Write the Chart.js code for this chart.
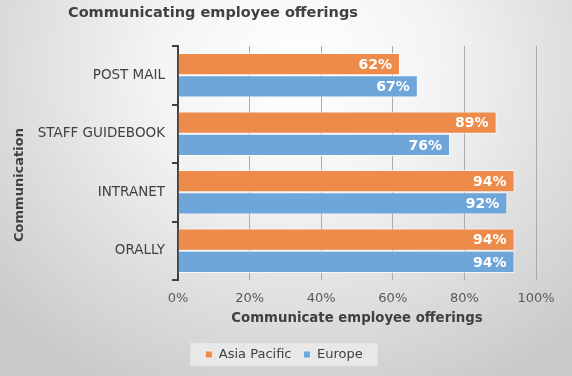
<!DOCTYPE html>
<html>
<head>
<meta charset="utf-8">
<script src="https://cdn.jsdelivr.net/npm/chart.js@4.4.0/dist/chart.umd.min.js"></script>
<style>
  html, body { margin: 0; padding: 0; }
  body { width: 572px; height: 376px; overflow: hidden; }
  #wrap {
    position: relative;
    width: 572px;
    height: 376px;
    background: radial-gradient(ellipse 70% 95% at 52% 18%, #ffffff 0%, #f4f4f4 35%, #dadada 75%, #cacaca 100%);
  }
</style>
</head>
<body>
<div id="wrap"><canvas id="chart" width="572" height="376"></canvas></div>
<script>
// Chart data
const categories = ["POST MAIL", "STAFF GUIDEBOOK", "INTRANET", "ORALLY"];
const asiaPacific = [62, 89, 94, 94];
const europe = [67, 76, 92, 94];
const xTickValues = [0, 20, 40, 60, 80, 100];

const chartTitle = "Communicating employee offerings";
const xTitle = "Communicate employee offerings";
const yTitle = "Communication";

const FONT = "'DejaVu Sans', Verdana, sans-serif";

// Title, rotated y title and legend backdrop
const decorPlugin = {
  id: "decor",
  afterLayout(chart) {
    // legend sits a bit right of the default centre
    if (chart.legend) {
      chart.legend.left += 12;
      chart.legend.right += 12;
    }
  },
  beforeDraw(chart) {
    const ctx = chart.ctx;
    const boxes = chart.legend && chart.legend.legendHitBoxes;
    if (boxes && boxes.length) {
      let left = Infinity, right = -Infinity, top = Infinity, bottom = -Infinity;
      boxes.forEach((b) => {
        left = Math.min(left, b.left);
        right = Math.max(right, b.left + b.width);
        top = Math.min(top, b.top);
        bottom = Math.max(bottom, b.top + b.height);
      });
      ctx.save();
      ctx.fillStyle = "rgba(235,235,235,0.85)";
      ctx.fillRect(left - 15, top - 5, right - left + 30, bottom - top + 10);
      ctx.restore();
    }
  },
  afterDraw(chart) {
    const ctx = chart.ctx;
    ctx.save();
    ctx.fillStyle = "#404040";
    ctx.font = "bold 14.5px " + FONT;
    ctx.textAlign = "left";
    ctx.textBaseline = "alphabetic";
    ctx.fillText(chartTitle, 68, 17);

    ctx.font = "bold 13px " + FONT;
    ctx.translate(20, 185);
    ctx.rotate(-Math.PI / 2);
    ctx.textAlign = "center";
    ctx.textBaseline = "middle";
    ctx.fillText(yTitle, 0, 0);
    ctx.restore();
  },
};

// Value labels inside bar ends
const valueLabels = {
  id: "valueLabels",
  afterDatasetsDraw(chart) {
    const ctx = chart.ctx;
    ctx.save();
    ctx.fillStyle = "#ffffff";
    ctx.font = "bold 14px " + FONT;
    ctx.textAlign = "right";
    ctx.textBaseline = "middle";
    chart.data.datasets.forEach((ds, i) => {
      const meta = chart.getDatasetMeta(i);
      meta.data.forEach((bar, j) => {
        ctx.fillText(ds.data[j] + "%", bar.x - 8, bar.y + 1);
      });
    });
    ctx.restore();
  },
};

new Chart(document.getElementById("chart"), {
  type: "bar",
  data: {
    labels: categories,
    datasets: [
      {
        label: "Asia Pacific",
        data: asiaPacific,
        backgroundColor: "#ED8B4B",
        borderColor: "rgba(255,255,255,0.7)",
        borderWidth: 1,
        categoryPercentage: 0.76,
        barPercentage: 1.0,
      },
      {
        label: "Europe",
        data: europe,
        backgroundColor: "#6FA6DA",
        borderColor: "rgba(255,255,255,0.7)",
        borderWidth: 1,
        categoryPercentage: 0.76,
        barPercentage: 1.0,
      },
    ],
  },
  options: {
    indexAxis: "y",
    responsive: false,
    animation: false,
    devicePixelRatio: 1,
    layout: {
      padding: { top: 46, right: 36, bottom: 5, left: 8 },
    },
    plugins: {
      title: { display: false },
      tooltip: { enabled: false },
      legend: {
        position: "bottom",
        labels: {
          boxWidth: 7,
          boxHeight: 7,
          padding: 12,
          color: "#404040",
          font: { family: FONT, size: 13 },
        },
      },
    },
    scales: {
      x: {
        min: 0,
        max: 100,
        afterBuildTicks(scale) {
          scale.ticks = xTickValues.map((v) => ({ value: v }));
        },
        afterFit(scale) {
          scale.height = 56;
        },
        ticks: {
          padding: 11,
          color: "#595959",
          font: { family: FONT, size: 13 },
          callback: (v) => v + "%",
        },
        grid: {
          color: "#ababab",
          lineWidth: 1,
          drawTicks: false,
        },
        border: { display: false },
        title: {
          display: true,
          text: xTitle,
          color: "#404040",
          font: { family: FONT, size: 13.3, weight: "bold" },
          padding: { top: 4, bottom: 9 },
        },
      },
      y: {
        afterFit(scale) {
          scale.width = 170;
        },
        ticks: {
          padding: 7,
          color: "#404040",
          font: { family: FONT, size: 13.5 },
        },
        grid: {
          drawOnChartArea: false,
          drawTicks: true,
          tickLength: 6,
          color: "#404040",
          lineWidth: 2,
        },
        border: { color: "#404040", width: 2 },
      },
    },
  },
  plugins: [decorPlugin, valueLabels],
});
</script>
</body>
</html>
